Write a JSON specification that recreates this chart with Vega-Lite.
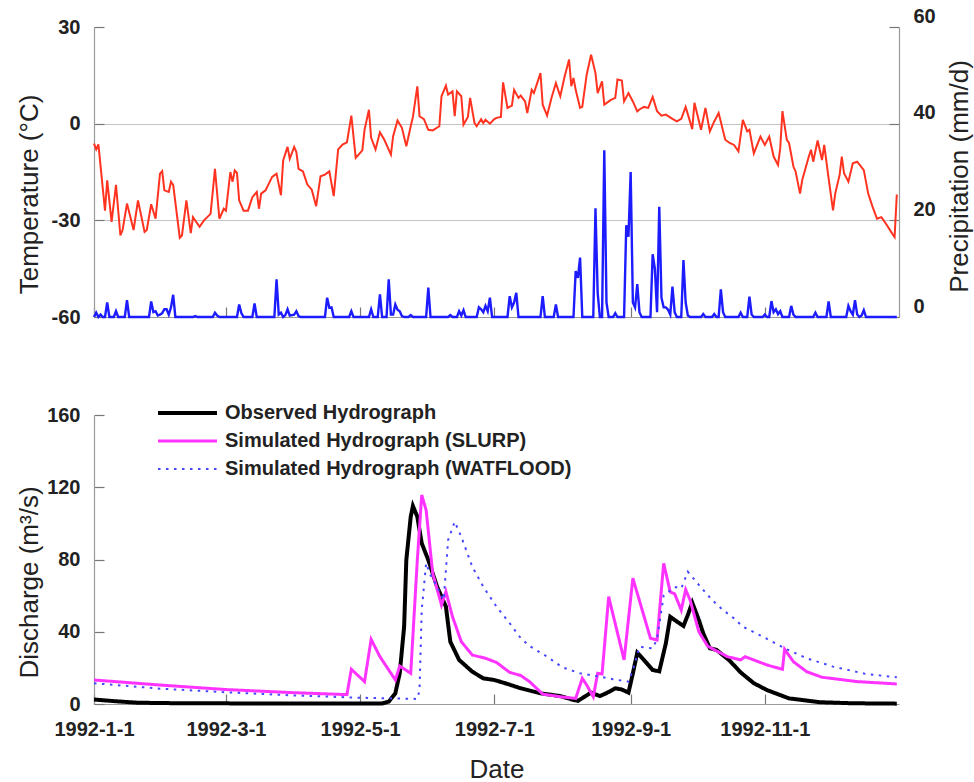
{
  "$schema": "https://vega.github.io/schema/vega-lite/v6.json",
  "autosize": {"type": "pad"},
  "padding": {"left": 16, "top": 6, "right": 5, "bottom": 5},
  "background": "white",
  "datasets": {
    "temp": [
      {"date":"1992-01-01","t":-6.2},{"date":"1992-01-02","t":-8},{"date":"1992-01-03","t":-6.4},{"date":"1992-01-06","t":-27},{"date":"1992-01-07","t":-17.6},{"date":"1992-01-09","t":-30.5},{"date":"1992-01-11","t":-19},{"date":"1992-01-13","t":-34.7},{"date":"1992-01-14","t":-33},{"date":"1992-01-16","t":-24.8},{"date":"1992-01-19","t":-33},{"date":"1992-01-21","t":-23.8},{"date":"1992-01-24","t":-33.6},{"date":"1992-01-25","t":-33},{"date":"1992-01-27","t":-25},{"date":"1992-01-29","t":-29.5},{"date":"1992-01-31","t":-15.5},
      {"date":"1992-02-01","t":-14.7},{"date":"1992-02-02","t":-20.7},{"date":"1992-02-04","t":-21.2},{"date":"1992-02-05","t":-18},{"date":"1992-02-06","t":-19},{"date":"1992-02-09","t":-35.4},{"date":"1992-02-10","t":-34.7},{"date":"1992-02-12","t":-23.8},{"date":"1992-02-14","t":-34},{"date":"1992-02-15","t":-29},{"date":"1992-02-18","t":-32},{"date":"1992-02-20","t":-30},{"date":"1992-02-23","t":-28},{"date":"1992-02-25","t":-14},{"date":"1992-02-27","t":-29.5},{"date":"1992-02-29","t":-26.4},
      {"date":"1992-03-01","t":-27},{"date":"1992-03-03","t":-15},{"date":"1992-03-04","t":-18},{"date":"1992-03-05","t":-14.5},{"date":"1992-03-06","t":-15.3},{"date":"1992-03-07","t":-23.8},{"date":"1992-03-09","t":-27},{"date":"1992-03-11","t":-27},{"date":"1992-03-13","t":-22.8},{"date":"1992-03-15","t":-21.2},{"date":"1992-03-16","t":-26.4},{"date":"1992-03-17","t":-21.7},{"date":"1992-03-19","t":-20.7},{"date":"1992-03-22","t":-16.5},{"date":"1992-03-24","t":-15.5},{"date":"1992-03-26","t":-22.2},{"date":"1992-03-27","t":-11.4},{"date":"1992-03-29","t":-7.2},{"date":"1992-03-30","t":-10.9},
      {"date":"1992-04-01","t":-7.2},{"date":"1992-04-02","t":-8.8},{"date":"1992-04-03","t":-14},{"date":"1992-04-05","t":-14.8},{"date":"1992-04-07","t":-18.9},{"date":"1992-04-09","t":-20.5},{"date":"1992-04-11","t":-25.6},{"date":"1992-04-13","t":-16.3},{"date":"1992-04-15","t":-15.8},{"date":"1992-04-17","t":-14.8},{"date":"1992-04-19","t":-22.5},{"date":"1992-04-21","t":-8},{"date":"1992-04-23","t":-6.5},{"date":"1992-04-25","t":-5.8},{"date":"1992-04-27","t":2.5},{"date":"1992-04-29","t":-10.6},
      {"date":"1992-05-02","t":-8.3},{"date":"1992-05-03","t":-1.9},{"date":"1992-05-05","t":4.3},{"date":"1992-05-06","t":-4.4},{"date":"1992-05-08","t":-8},{"date":"1992-05-10","t":-2.7},{"date":"1992-05-12","t":-5},{"date":"1992-05-15","t":-9.6},{"date":"1992-05-16","t":-3.9},{"date":"1992-05-18","t":1},{"date":"1992-05-20","t":-1.3},{"date":"1992-05-22","t":-7},{"date":"1992-05-24","t":-0.8},{"date":"1992-05-25","t":2.1},{"date":"1992-05-27","t":11.6},{"date":"1992-05-28","t":2.3},{"date":"1992-05-30","t":1.4},
      {"date":"1992-06-01","t":-1.9},{"date":"1992-06-03","t":-2.1},{"date":"1992-06-06","t":-0.8},{"date":"1992-06-07","t":8.5},{"date":"1992-06-09","t":11.8},{"date":"1992-06-10","t":9},{"date":"1992-06-12","t":10},{"date":"1992-06-13","t":2.3},{"date":"1992-06-14","t":10},{"date":"1992-06-16","t":8.5},{"date":"1992-06-17","t":-0.3},{"date":"1992-06-19","t":2.1},{"date":"1992-06-20","t":8},{"date":"1992-06-22","t":0.2},{"date":"1992-06-23","t":-0.8},{"date":"1992-06-25","t":1.4},{"date":"1992-06-26","t":0.2},{"date":"1992-06-27","t":1.2},{"date":"1992-06-29","t":0},
      {"date":"1992-07-01","t":1.4},{"date":"1992-07-02","t":1.8},{"date":"1992-07-04","t":2.1},{"date":"1992-07-05","t":12.8},{"date":"1992-07-07","t":4.9},{"date":"1992-07-09","t":5.6},{"date":"1992-07-10","t":10.5},{"date":"1992-07-12","t":8},{"date":"1992-07-13","t":8.7},{"date":"1992-07-15","t":6.9},{"date":"1992-07-16","t":3.3},{"date":"1992-07-18","t":10.5},{"date":"1992-07-19","t":9.5},{"date":"1992-07-22","t":15.7},{"date":"1992-07-23","t":5.9},{"date":"1992-07-25","t":2.5},{"date":"1992-07-27","t":8},{"date":"1992-07-29","t":12.6},{"date":"1992-07-31","t":8.5},
      {"date":"1992-08-02","t":14.7},{"date":"1992-08-04","t":19.9},{"date":"1992-08-05","t":11.6},{"date":"1992-08-06","t":14.2},{"date":"1992-08-07","t":10.5},{"date":"1992-08-09","t":4.9},{"date":"1992-08-10","t":5.2},{"date":"1992-08-12","t":15.2},{"date":"1992-08-14","t":21.4},{"date":"1992-08-16","t":15.7},{"date":"1992-08-17","t":9.5},{"date":"1992-08-19","t":13.1},{"date":"1992-08-20","t":5.9},{"date":"1992-08-23","t":7.4},{"date":"1992-08-25","t":8},{"date":"1992-08-26","t":13.7},{"date":"1992-08-28","t":13.4},{"date":"1992-08-29","t":6.9},{"date":"1992-08-31","t":9.5},
      {"date":"1992-09-02","t":6.9},{"date":"1992-09-04","t":3.8},{"date":"1992-09-05","t":4.4},{"date":"1992-09-07","t":5.2},{"date":"1992-09-09","t":4.9},{"date":"1992-09-11","t":8.3},{"date":"1992-09-13","t":3.9},{"date":"1992-09-15","t":2.5},{"date":"1992-09-17","t":2.8},{"date":"1992-09-20","t":1.5},{"date":"1992-09-22","t":0.7},{"date":"1992-09-24","t":1.5},{"date":"1992-09-26","t":5.2},{"date":"1992-09-29","t":-1.7},{"date":"1992-09-30","t":6.5},
      {"date":"1992-10-03","t":-1.9},{"date":"1992-10-05","t":4.9},{"date":"1992-10-07","t":-2.4},{"date":"1992-10-09","t":0.7},{"date":"1992-10-11","t":3.3},{"date":"1992-10-14","t":-5},{"date":"1992-10-16","t":-6},{"date":"1992-10-18","t":-6.6},{"date":"1992-10-20","t":-8.6},{"date":"1992-10-22","t":1.2},{"date":"1992-10-24","t":-2.4},{"date":"1992-10-25","t":-1.9},{"date":"1992-10-27","t":-9.2},{"date":"1992-10-30","t":-4},
      {"date":"1992-11-01","t":-6.6},{"date":"1992-11-03","t":-4},{"date":"1992-11-05","t":-10.2},{"date":"1992-11-07","t":-12.8},{"date":"1992-11-08","t":-7.6},{"date":"1992-11-09","t":3.9},{"date":"1992-11-11","t":-5},{"date":"1992-11-12","t":-6},{"date":"1992-11-14","t":-13.3},{"date":"1992-11-15","t":-14.9},{"date":"1992-11-17","t":-21.7},{"date":"1992-11-18","t":-17.5},{"date":"1992-11-21","t":-10.2},{"date":"1992-11-22","t":-8.1},{"date":"1992-11-23","t":-11.8},{"date":"1992-11-25","t":-5.2},{"date":"1992-11-27","t":-11.3},{"date":"1992-11-28","t":-6.6},{"date":"1992-11-30","t":-17},
      {"date":"1992-12-02","t":-26.9},{"date":"1992-12-03","t":-21.7},{"date":"1992-12-05","t":-15.9},{"date":"1992-12-06","t":-10.2},{"date":"1992-12-07","t":-15.4},{"date":"1992-12-09","t":-18},{"date":"1992-12-11","t":-12.3},{"date":"1992-12-13","t":-11.8},{"date":"1992-12-16","t":-14.4},{"date":"1992-12-18","t":-21.7},{"date":"1992-12-20","t":-25.8},{"date":"1992-12-22","t":-29.5},{"date":"1992-12-24","t":-29},{"date":"1992-12-26","t":-31},{"date":"1992-12-29","t":-34.2},{"date":"1992-12-30","t":-35.2},{"date":"1992-12-31","t":-22}
    ],
    "precip": [
      {"date":"1992-01-01","p":0},{"date":"1992-01-02","p":0.9},{"date":"1992-01-03","p":0},{"date":"1992-01-04","p":0.5},{"date":"1992-01-05","p":0},{"date":"1992-01-06","p":0},{"date":"1992-01-07","p":3},{"date":"1992-01-08","p":0},{"date":"1992-01-10","p":0},{"date":"1992-01-11","p":1.2},{"date":"1992-01-12","p":0},{"date":"1992-01-15","p":0},{"date":"1992-01-16","p":3.5},{"date":"1992-01-17","p":0},{"date":"1992-01-26","p":0},{"date":"1992-01-27","p":3.2},{"date":"1992-01-28","p":1},{"date":"1992-01-29","p":1.2},{"date":"1992-01-30","p":0.3},{"date":"1992-01-31","p":0.5},
      {"date":"1992-02-01","p":0.8},{"date":"1992-02-02","p":1.6},{"date":"1992-02-03","p":1.6},{"date":"1992-02-04","p":0.5},{"date":"1992-02-05","p":2},{"date":"1992-02-06","p":4.6},{"date":"1992-02-07","p":0},{"date":"1992-02-15","p":0},{"date":"1992-02-16","p":0.2},{"date":"1992-02-17","p":0},{"date":"1992-02-24","p":0},{"date":"1992-02-25","p":0.9},{"date":"1992-02-26","p":0.3},{"date":"1992-02-27","p":0},
      {"date":"1992-03-06","p":0},{"date":"1992-03-07","p":2.6},{"date":"1992-03-08","p":0.8},{"date":"1992-03-09","p":0},{"date":"1992-03-13","p":0},{"date":"1992-03-14","p":2.8},{"date":"1992-03-15","p":0},{"date":"1992-03-23","p":0},{"date":"1992-03-24","p":7.8},{"date":"1992-03-25","p":0.5},{"date":"1992-03-26","p":0.9},{"date":"1992-03-27","p":0},{"date":"1992-03-28","p":0.4},{"date":"1992-03-29","p":1.6},{"date":"1992-03-30","p":0.3},
      {"date":"1992-04-01","p":0.5},{"date":"1992-04-02","p":1.2},{"date":"1992-04-03","p":0.2},{"date":"1992-04-04","p":0},{"date":"1992-04-15","p":0},{"date":"1992-04-16","p":4},{"date":"1992-04-17","p":1.9},{"date":"1992-04-18","p":2},{"date":"1992-04-19","p":0},{"date":"1992-04-26","p":0},{"date":"1992-04-27","p":1.2},{"date":"1992-04-28","p":0},
      {"date":"1992-05-05","p":0},{"date":"1992-05-06","p":1.6},{"date":"1992-05-07","p":0},{"date":"1992-05-09","p":0},{"date":"1992-05-10","p":4.7},{"date":"1992-05-11","p":0},{"date":"1992-05-13","p":0},{"date":"1992-05-14","p":7.8},{"date":"1992-05-15","p":0.5},{"date":"1992-05-16","p":0.5},{"date":"1992-05-17","p":2.6},{"date":"1992-05-18","p":1.5},{"date":"1992-05-19","p":1.2},{"date":"1992-05-20","p":0.2},{"date":"1992-05-21","p":0},{"date":"1992-05-23","p":0},{"date":"1992-05-24","p":0.4},{"date":"1992-05-25","p":0},{"date":"1992-05-31","p":0},
      {"date":"1992-06-01","p":6.1},{"date":"1992-06-02","p":0},{"date":"1992-06-10","p":0},{"date":"1992-06-11","p":0.4},{"date":"1992-06-12","p":0},{"date":"1992-06-14","p":0},{"date":"1992-06-15","p":1.2},{"date":"1992-06-16","p":0.3},{"date":"1992-06-17","p":1.4},{"date":"1992-06-18","p":0},{"date":"1992-06-23","p":0},{"date":"1992-06-24","p":2},{"date":"1992-06-25","p":1.6},{"date":"1992-06-26","p":1},{"date":"1992-06-27","p":2.3},{"date":"1992-06-28","p":1.2},{"date":"1992-06-29","p":4},{"date":"1992-06-30","p":0},
      {"date":"1992-07-07","p":0},{"date":"1992-07-08","p":4.3},{"date":"1992-07-09","p":2},{"date":"1992-07-10","p":3},{"date":"1992-07-11","p":5},{"date":"1992-07-12","p":0},{"date":"1992-07-22","p":0},{"date":"1992-07-23","p":4.3},{"date":"1992-07-24","p":0},{"date":"1992-07-28","p":0},{"date":"1992-07-29","p":2.6},{"date":"1992-07-30","p":0},
      {"date":"1992-08-06","p":0},{"date":"1992-08-07","p":9.5},{"date":"1992-08-08","p":8.1},{"date":"1992-08-09","p":12.3},{"date":"1992-08-10","p":0},{"date":"1992-08-15","p":0},{"date":"1992-08-16","p":22.5},{"date":"1992-08-17","p":5},{"date":"1992-08-18","p":0},{"date":"1992-08-19","p":0},{"date":"1992-08-20","p":34.5},{"date":"1992-08-21","p":3},{"date":"1992-08-22","p":0},{"date":"1992-08-24","p":0},{"date":"1992-08-25","p":0.8},{"date":"1992-08-26","p":0},{"date":"1992-08-29","p":0},{"date":"1992-08-30","p":19},{"date":"1992-08-31","p":16.6},
      {"date":"1992-09-01","p":30},{"date":"1992-09-02","p":3},{"date":"1992-09-03","p":2},{"date":"1992-09-04","p":6.8},{"date":"1992-09-05","p":1},{"date":"1992-09-06","p":0},{"date":"1992-09-10","p":0},{"date":"1992-09-11","p":13},{"date":"1992-09-12","p":10},{"date":"1992-09-13","p":1},{"date":"1992-09-14","p":22.8},{"date":"1992-09-15","p":4},{"date":"1992-09-16","p":2},{"date":"1992-09-17","p":2},{"date":"1992-09-18","p":1.5},{"date":"1992-09-19","p":0.5},{"date":"1992-09-20","p":6.3},{"date":"1992-09-21","p":1},{"date":"1992-09-22","p":0},{"date":"1992-09-24","p":0},{"date":"1992-09-25","p":11.8},{"date":"1992-09-26","p":3},{"date":"1992-09-27","p":0.3},{"date":"1992-09-28","p":0},
      {"date":"1992-10-03","p":0},{"date":"1992-10-04","p":0.6},{"date":"1992-10-05","p":0},{"date":"1992-10-08","p":0},{"date":"1992-10-09","p":0.6},{"date":"1992-10-10","p":0},{"date":"1992-10-11","p":0},{"date":"1992-10-12","p":5.7},{"date":"1992-10-13","p":1},{"date":"1992-10-14","p":0},{"date":"1992-10-20","p":0},{"date":"1992-10-21","p":0.9},{"date":"1992-10-22","p":0},{"date":"1992-10-24","p":0},{"date":"1992-10-25","p":4.2},{"date":"1992-10-26","p":0.5},{"date":"1992-10-27","p":0},{"date":"1992-10-31","p":0},
      {"date":"1992-11-01","p":0.5},{"date":"1992-11-02","p":0},{"date":"1992-11-03","p":0},{"date":"1992-11-04","p":3.3},{"date":"1992-11-05","p":1},{"date":"1992-11-06","p":1.6},{"date":"1992-11-07","p":0.6},{"date":"1992-11-08","p":1.2},{"date":"1992-11-09","p":0},{"date":"1992-11-12","p":0},{"date":"1992-11-13","p":2.3},{"date":"1992-11-14","p":0.5},{"date":"1992-11-15","p":0},{"date":"1992-11-23","p":0},{"date":"1992-11-24","p":0.9},{"date":"1992-11-25","p":0},{"date":"1992-11-29","p":0},{"date":"1992-11-30","p":3.2},
      {"date":"1992-12-01","p":0},{"date":"1992-12-08","p":0},{"date":"1992-12-09","p":2.3},{"date":"1992-12-10","p":1.2},{"date":"1992-12-11","p":0.5},{"date":"1992-12-12","p":3.5},{"date":"1992-12-13","p":0.5},{"date":"1992-12-14","p":0},{"date":"1992-12-15","p":0.3},{"date":"1992-12-16","p":1.4},{"date":"1992-12-17","p":0},{"date":"1992-12-31","p":0}
    ],
    "flow": [
      {"date":"1992-01-01","s":"Observed Hydrograph","q":2.5},{"date":"1992-01-11","s":"Observed Hydrograph","q":1.5},{"date":"1992-01-21","s":"Observed Hydrograph","q":0.7},{"date":"1992-02-10","s":"Observed Hydrograph","q":0.4},{"date":"1992-03-21","s":"Observed Hydrograph","q":0.3},{"date":"1992-05-11","s":"Observed Hydrograph","q":0.3},{"date":"1992-05-14","s":"Observed Hydrograph","q":1.3},{"date":"1992-05-17","s":"Observed Hydrograph","q":5.9},{"date":"1992-05-19","s":"Observed Hydrograph","q":17},{"date":"1992-05-21","s":"Observed Hydrograph","q":42.8},{"date":"1992-05-22","s":"Observed Hydrograph","q":79.7},{"date":"1992-05-24","s":"Observed Hydrograph","q":103.7},{"date":"1992-05-25","s":"Observed Hydrograph","q":109.6},{"date":"1992-05-27","s":"Observed Hydrograph","q":103.7},{"date":"1992-05-29","s":"Observed Hydrograph","q":89},{"date":"1992-06-01","s":"Observed Hydrograph","q":79.7},{"date":"1992-06-05","s":"Observed Hydrograph","q":64.9},{"date":"1992-06-09","s":"Observed Hydrograph","q":53.9},{"date":"1992-06-11","s":"Observed Hydrograph","q":34.5},{"date":"1992-06-15","s":"Observed Hydrograph","q":24.4},{"date":"1992-06-21","s":"Observed Hydrograph","q":17.9},{"date":"1992-06-26","s":"Observed Hydrograph","q":14.2},{"date":"1992-07-01","s":"Observed Hydrograph","q":13.3},{"date":"1992-07-07","s":"Observed Hydrograph","q":11.1},{"date":"1992-07-13","s":"Observed Hydrograph","q":8.7},{"date":"1992-07-22","s":"Observed Hydrograph","q":5.9},{"date":"1992-07-31","s":"Observed Hydrograph","q":4.4},{"date":"1992-08-05","s":"Observed Hydrograph","q":2.6},{"date":"1992-08-08","s":"Observed Hydrograph","q":1.7},{"date":"1992-08-11","s":"Observed Hydrograph","q":4},{"date":"1992-08-14","s":"Observed Hydrograph","q":6.3},{"date":"1992-08-18","s":"Observed Hydrograph","q":4.4},{"date":"1992-08-21","s":"Observed Hydrograph","q":6},{"date":"1992-08-25","s":"Observed Hydrograph","q":8.7},{"date":"1992-08-28","s":"Observed Hydrograph","q":8},{"date":"1992-08-31","s":"Observed Hydrograph","q":6.3},{"date":"1992-09-02","s":"Observed Hydrograph","q":17},{"date":"1992-09-04","s":"Observed Hydrograph","q":28.4},{"date":"1992-09-07","s":"Observed Hydrograph","q":24.4},{"date":"1992-09-11","s":"Observed Hydrograph","q":18.8},{"date":"1992-09-14","s":"Observed Hydrograph","q":18.1},{"date":"1992-09-17","s":"Observed Hydrograph","q":33.6},{"date":"1992-09-19","s":"Observed Hydrograph","q":48.3},{"date":"1992-09-21","s":"Observed Hydrograph","q":46.5},{"date":"1992-09-25","s":"Observed Hydrograph","q":43.2},{"date":"1992-09-27","s":"Observed Hydrograph","q":49.3},{"date":"1992-09-29","s":"Observed Hydrograph","q":56.1},{"date":"1992-10-02","s":"Observed Hydrograph","q":46.5},{"date":"1992-10-04","s":"Observed Hydrograph","q":39.1},{"date":"1992-10-07","s":"Observed Hydrograph","q":30.8},{"date":"1992-10-10","s":"Observed Hydrograph","q":30},{"date":"1992-10-16","s":"Observed Hydrograph","q":24},{"date":"1992-10-21","s":"Observed Hydrograph","q":17.5},{"date":"1992-10-27","s":"Observed Hydrograph","q":11.5},{"date":"1992-11-02","s":"Observed Hydrograph","q":7.7},{"date":"1992-11-12","s":"Observed Hydrograph","q":3.1},{"date":"1992-11-26","s":"Observed Hydrograph","q":1},{"date":"1992-12-11","s":"Observed Hydrograph","q":0.4},{"date":"1992-12-31","s":"Observed Hydrograph","q":0.2},
      {"date":"1992-01-01","s":"Simulated Hydrograph (SLURP)","q":13.3},{"date":"1992-01-31","s":"Simulated Hydrograph (SLURP)","q":10.5},{"date":"1992-03-01","s":"Simulated Hydrograph (SLURP)","q":8},{"date":"1992-03-31","s":"Simulated Hydrograph (SLURP)","q":6.3},{"date":"1992-04-25","s":"Simulated Hydrograph (SLURP)","q":5.2},{"date":"1992-04-27","s":"Simulated Hydrograph (SLURP)","q":19.2},{"date":"1992-05-03","s":"Simulated Hydrograph (SLURP)","q":12.4},{"date":"1992-05-06","s":"Simulated Hydrograph (SLURP)","q":35.8},{"date":"1992-05-10","s":"Simulated Hydrograph (SLURP)","q":26.2},{"date":"1992-05-17","s":"Simulated Hydrograph (SLURP)","q":13.3},{"date":"1992-05-19","s":"Simulated Hydrograph (SLURP)","q":21},{"date":"1992-05-24","s":"Simulated Hydrograph (SLURP)","q":17},{"date":"1992-05-27","s":"Simulated Hydrograph (SLURP)","q":79.7},{"date":"1992-05-29","s":"Simulated Hydrograph (SLURP)","q":115.7},{"date":"1992-05-31","s":"Simulated Hydrograph (SLURP)","q":107.4},{"date":"1992-06-03","s":"Simulated Hydrograph (SLURP)","q":72.3},{"date":"1992-06-07","s":"Simulated Hydrograph (SLURP)","q":54.8},{"date":"1992-06-09","s":"Simulated Hydrograph (SLURP)","q":62.2},{"date":"1992-06-12","s":"Simulated Hydrograph (SLURP)","q":48.3},{"date":"1992-06-16","s":"Simulated Hydrograph (SLURP)","q":34.5},{"date":"1992-06-21","s":"Simulated Hydrograph (SLURP)","q":27.1},{"date":"1992-06-27","s":"Simulated Hydrograph (SLURP)","q":25.3},{"date":"1992-07-02","s":"Simulated Hydrograph (SLURP)","q":23},{"date":"1992-07-08","s":"Simulated Hydrograph (SLURP)","q":17.5},{"date":"1992-07-13","s":"Simulated Hydrograph (SLURP)","q":15.8},{"date":"1992-07-17","s":"Simulated Hydrograph (SLURP)","q":12.4},{"date":"1992-07-23","s":"Simulated Hydrograph (SLURP)","q":5.5},{"date":"1992-07-31","s":"Simulated Hydrograph (SLURP)","q":4},{"date":"1992-08-07","s":"Simulated Hydrograph (SLURP)","q":3.1},{"date":"1992-08-10","s":"Simulated Hydrograph (SLURP)","q":14.2},{"date":"1992-08-12","s":"Simulated Hydrograph (SLURP)","q":10.5},{"date":"1992-08-15","s":"Simulated Hydrograph (SLURP)","q":4},{"date":"1992-08-17","s":"Simulated Hydrograph (SLURP)","q":17},{"date":"1992-08-19","s":"Simulated Hydrograph (SLURP)","q":16.6},{"date":"1992-08-22","s":"Simulated Hydrograph (SLURP)","q":59.4},{"date":"1992-08-29","s":"Simulated Hydrograph (SLURP)","q":24.4},{"date":"1992-09-02","s":"Simulated Hydrograph (SLURP)","q":69.6},{"date":"1992-09-10","s":"Simulated Hydrograph (SLURP)","q":36.4},{"date":"1992-09-13","s":"Simulated Hydrograph (SLURP)","q":35.4},{"date":"1992-09-16","s":"Simulated Hydrograph (SLURP)","q":77.9},{"date":"1992-09-19","s":"Simulated Hydrograph (SLURP)","q":62},{"date":"1992-09-21","s":"Simulated Hydrograph (SLURP)","q":61},{"date":"1992-09-24","s":"Simulated Hydrograph (SLURP)","q":52},{"date":"1992-09-26","s":"Simulated Hydrograph (SLURP)","q":63.3},{"date":"1992-09-28","s":"Simulated Hydrograph (SLURP)","q":57.6},{"date":"1992-10-02","s":"Simulated Hydrograph (SLURP)","q":40},{"date":"1992-10-06","s":"Simulated Hydrograph (SLURP)","q":32},{"date":"1992-10-15","s":"Simulated Hydrograph (SLURP)","q":26.2},{"date":"1992-10-21","s":"Simulated Hydrograph (SLURP)","q":24.4},{"date":"1992-10-23","s":"Simulated Hydrograph (SLURP)","q":26.2},{"date":"1992-11-02","s":"Simulated Hydrograph (SLURP)","q":21.6},{"date":"1992-11-09","s":"Simulated Hydrograph (SLURP)","q":19.2},{"date":"1992-11-10","s":"Simulated Hydrograph (SLURP)","q":30.3},{"date":"1992-11-14","s":"Simulated Hydrograph (SLURP)","q":23.4},{"date":"1992-11-20","s":"Simulated Hydrograph (SLURP)","q":17.9},{"date":"1992-11-27","s":"Simulated Hydrograph (SLURP)","q":14.8},{"date":"1992-12-13","s":"Simulated Hydrograph (SLURP)","q":12.4},{"date":"1992-12-31","s":"Simulated Hydrograph (SLURP)","q":11.1},
      {"date":"1992-01-01","s":"Simulated Hydrograph (WATFLOOD)","q":11.5},{"date":"1992-01-31","s":"Simulated Hydrograph (WATFLOOD)","q":8.5},{"date":"1992-03-01","s":"Simulated Hydrograph (WATFLOOD)","q":6.5},{"date":"1992-03-31","s":"Simulated Hydrograph (WATFLOOD)","q":4.8},{"date":"1992-04-30","s":"Simulated Hydrograph (WATFLOOD)","q":3.5},{"date":"1992-05-27","s":"Simulated Hydrograph (WATFLOOD)","q":2.8},{"date":"1992-05-28","s":"Simulated Hydrograph (WATFLOOD)","q":7.7},{"date":"1992-05-29","s":"Simulated Hydrograph (WATFLOOD)","q":52},{"date":"1992-05-31","s":"Simulated Hydrograph (WATFLOOD)","q":77.9},{"date":"1992-06-02","s":"Simulated Hydrograph (WATFLOOD)","q":71.4},{"date":"1992-06-05","s":"Simulated Hydrograph (WATFLOOD)","q":64.9},{"date":"1992-06-08","s":"Simulated Hydrograph (WATFLOOD)","q":57.6},{"date":"1992-06-10","s":"Simulated Hydrograph (WATFLOOD)","q":90.8},{"date":"1992-06-13","s":"Simulated Hydrograph (WATFLOOD)","q":100.9},{"date":"1992-06-16","s":"Simulated Hydrograph (WATFLOOD)","q":92.6},{"date":"1992-06-21","s":"Simulated Hydrograph (WATFLOOD)","q":76},{"date":"1992-06-26","s":"Simulated Hydrograph (WATFLOOD)","q":64.9},{"date":"1992-07-02","s":"Simulated Hydrograph (WATFLOOD)","q":53.9},{"date":"1992-07-08","s":"Simulated Hydrograph (WATFLOOD)","q":44.7},{"date":"1992-07-13","s":"Simulated Hydrograph (WATFLOOD)","q":36.5},{"date":"1992-07-17","s":"Simulated Hydrograph (WATFLOOD)","q":32.1},{"date":"1992-07-25","s":"Simulated Hydrograph (WATFLOOD)","q":26.2},{"date":"1992-08-01","s":"Simulated Hydrograph (WATFLOOD)","q":20.3},{"date":"1992-08-09","s":"Simulated Hydrograph (WATFLOOD)","q":17},{"date":"1992-08-18","s":"Simulated Hydrograph (WATFLOOD)","q":15.1},{"date":"1992-08-24","s":"Simulated Hydrograph (WATFLOOD)","q":13.7},{"date":"1992-08-31","s":"Simulated Hydrograph (WATFLOOD)","q":12.4},{"date":"1992-09-02","s":"Simulated Hydrograph (WATFLOOD)","q":18.8},{"date":"1992-09-05","s":"Simulated Hydrograph (WATFLOOD)","q":31.7},{"date":"1992-09-11","s":"Simulated Hydrograph (WATFLOOD)","q":30.8},{"date":"1992-09-13","s":"Simulated Hydrograph (WATFLOOD)","q":36},{"date":"1992-09-16","s":"Simulated Hydrograph (WATFLOOD)","q":60},{"date":"1992-09-21","s":"Simulated Hydrograph (WATFLOOD)","q":64.8},{"date":"1992-09-24","s":"Simulated Hydrograph (WATFLOOD)","q":64},{"date":"1992-09-27","s":"Simulated Hydrograph (WATFLOOD)","q":73.2},{"date":"1992-10-03","s":"Simulated Hydrograph (WATFLOOD)","q":64.5},{"date":"1992-10-08","s":"Simulated Hydrograph (WATFLOOD)","q":57.6},{"date":"1992-10-13","s":"Simulated Hydrograph (WATFLOOD)","q":52},{"date":"1992-10-18","s":"Simulated Hydrograph (WATFLOOD)","q":47.4},{"date":"1992-10-22","s":"Simulated Hydrograph (WATFLOOD)","q":42.8},{"date":"1992-10-31","s":"Simulated Hydrograph (WATFLOOD)","q":37.3},{"date":"1992-11-11","s":"Simulated Hydrograph (WATFLOOD)","q":30.3},{"date":"1992-11-20","s":"Simulated Hydrograph (WATFLOOD)","q":25.3},{"date":"1992-12-02","s":"Simulated Hydrograph (WATFLOOD)","q":20.7},{"date":"1992-12-17","s":"Simulated Hydrograph (WATFLOOD)","q":16.6},{"date":"1992-12-31","s":"Simulated Hydrograph (WATFLOOD)","q":14.8}
    ]
  },
  "vconcat": [
    {
      "width": 805,
      "height": 290,
      "layer": [
        {
          "data": {"name": "temp"},
          "mark": {"type": "line", "color": "#ff3320", "strokeWidth": 2},
          "encoding": {
            "x": {"field": "date", "type": "temporal",
              "scale": {"type": "utc", "domain": [{"year": 1992, "month": 1, "date": 1, "utc": true}, {"year": 1993, "month": 1, "date": 1, "utc": true}]},
              "axis": {"values": [{"year": 1992, "month": 1, "date": 1, "utc": true}, {"year": 1992, "month": 3, "date": 1, "utc": true}, {"year": 1992, "month": 5, "date": 1, "utc": true}, {"year": 1992, "month": 7, "date": 1, "utc": true}, {"year": 1992, "month": 9, "date": 1, "utc": true}, {"year": 1992, "month": 11, "date": 1, "utc": true}],
                "labels": false, "title": null}},
            "y": {"field": "t", "type": "quantitative",
              "scale": {"domain": [-60, 30], "nice": false, "zero": false},
              "axis": {"orient": "left", "values": [-60, -30, 0, 30], "title": "Temperature (°C)",
                "labelExpr": "datum.value + ''",
                "grid": true, "gridColor": "#c4c4c4", "gridWidth": 1.2,
                "gridOpacity": {"condition": {"test": "datum.value === 0 || datum.value === -30", "value": 1}, "value": 0},
                "titleX": -57, "titleY": 167, "titleAngle": -90, "titleAlign": "center", "titleBaseline": "alphabetic"}}
          }
        },
        {
          "data": {"name": "precip"},
          "mark": {"type": "line", "color": "#1c1cff", "strokeWidth": 2.4},
          "encoding": {
            "x": {"field": "date", "type": "temporal"},
            "y": {"field": "p", "type": "quantitative",
              "scale": {"domain": [0, 60], "nice": false},
              "axis": {"orient": "right", "values": [0, 20, 40, 60], "title": "Precipitation (mm/d)",
                "labelOffset": -11,
                "titleX": 68, "titleY": 149, "titleAngle": -90, "titleAlign": "center", "titleBaseline": "alphabetic"}}
          }
        }
      ],
      "resolve": {"scale": {"y": "independent"}, "axis": {"y": "independent"}}
    },
    {
      "width": 805,
      "height": 289,
      "data": {"name": "flow"},
      "mark": {"type": "line"},
      "encoding": {
        "x": {"field": "date", "type": "temporal",
          "scale": {"type": "utc", "domain": [{"year": 1992, "month": 1, "date": 1, "utc": true}, {"year": 1993, "month": 1, "date": 1, "utc": true}]},
          "axis": {"values": [{"year": 1992, "month": 1, "date": 1, "utc": true}, {"year": 1992, "month": 3, "date": 1, "utc": true}, {"year": 1992, "month": 5, "date": 1, "utc": true}, {"year": 1992, "month": 7, "date": 1, "utc": true}, {"year": 1992, "month": 9, "date": 1, "utc": true}, {"year": 1992, "month": 11, "date": 1, "utc": true}],
            "labelExpr": "utcFormat(datum.value, '%Y-%-m-%-d')", "labelFlush": false, "labelPadding": 25,
            "title": "Date", "titleY": 73, "titleBaseline": "alphabetic"}},
        "y": {"field": "q", "type": "quantitative",
          "scale": {"domain": [0, 160], "nice": false},
          "axis": {"values": [0, 40, 80, 120, 160], "title": "Discharge (m³/s)",
            "titleX": -57, "titleY": 167, "titleAngle": -90, "titleAlign": "center", "titleBaseline": "alphabetic"}},
        "color": {"field": "s", "type": "nominal",
          "scale": {"domain": ["Observed Hydrograph", "Simulated Hydrograph (SLURP)", "Simulated Hydrograph (WATFLOOD)"], "range": ["#000000", "#ff33ff", "#4646ff"]},
          "legend": {"orient": "none", "legendX": 62, "legendY": -12, "title": null, "symbolType": "stroke", "symbolSize": 3481, "clipHeight": 20, "rowPadding": 8, "labelOffset": 6, "labelLimit": 0, "labelFontSize": 20, "labelFont": "Liberation Sans", "labelFontWeight": "bold", "labelColor": "#222", "padding": 0}},
        "strokeWidth": {"field": "s", "type": "nominal",
          "scale": {"domain": ["Observed Hydrograph", "Simulated Hydrograph (SLURP)", "Simulated Hydrograph (WATFLOOD)"], "range": [4, 2, 2.2]}},
        "strokeDash": {"field": "s", "type": "nominal",
          "scale": {"domain": ["Observed Hydrograph", "Simulated Hydrograph (SLURP)", "Simulated Hydrograph (WATFLOOD)"], "range": [[1, 0], [1, 0], [2.5, 5.5]]}}
      }
    }
  ],
  "spacing": 98,
  "bounds": "flush",
  "resolve": {"legend": {"color": "independent", "strokeWidth": "independent", "strokeDash": "independent"}},
  "config": {
    "view": {"stroke": null},
    "font": "Liberation Sans",
    "axis": {
      "domainColor": "#9a9a9a", "domainWidth": 1.2, "tickColor": "#777", "tickSize": -10, "tickWidth": 1.2,
      "labelFont": "Liberation Sans", "labelFontSize": 20, "labelFontWeight": "bold", "labelColor": "#222", "labelPadding": 24,
      "titleFont": "Liberation Sans", "titleFontSize": 26, "titleFontWeight": "normal", "titleColor": "#222",
      "grid": false
    }
  }
}
